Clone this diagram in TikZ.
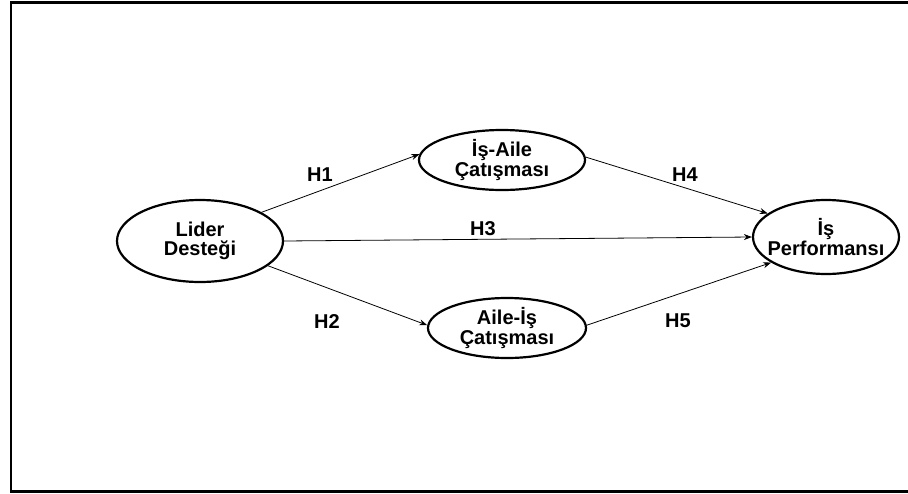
\documentclass[tikz,border=0pt]{standalone}
\usepackage{fontspec}
\setmainfont{Liberation Sans}
\usetikzlibrary{arrows.meta,shapes.geometric}

\begin{document}
\begin{tikzpicture}[x=1pt,y=-1pt,
    latent/.style={draw,ellipse,line width=2.2pt,inner xsep=-10pt,inner ysep=-5pt,align=center,
        font=\bfseries\fontsize{20}{19.3}\selectfont},
    path/.style={line width=0.8pt,-{Stealth[length=8pt,width=6pt]}},
    hyp/.style={font=\bfseries\fontsize{20}{20}\selectfont}]
    \useasboundingbox (0,0) rectangle (908,493);
    \clip (0,0) rectangle (908,493);
    \draw[line width=2.5pt](11,2.5) rectangle (916,491.5);
    \node[latent,minimum width=166pt,minimum height=82pt](lider)at(200,241){Lider\\Desteği};
    \node[latent,minimum width=166pt,minimum height=60pt](isaile)at(502,160){İş-Aile\\Çatışması};
    \node[latent,minimum width=158pt,minimum height=60pt](aileis)at(507,328){Aile-İş\\Çatışması};
    \node[latent,minimum width=146pt,minimum height=74pt](perf)at(826,237){İş\\Performansı};
    \draw[path](lider.25)--(isaile.176);
    \draw[path](lider.east)--(perf.west);
    \draw[path](lider.-20)--(aileis.178);
    \draw[path](isaile.2)--(perf.158);
    \draw[path](aileis.2)--(perf.-155);
    \node[hyp](h1)at(320,175){H1};
    \node[hyp](h3)at(483,229){H3};
    \node[hyp](h4)at(685,175){H4};
    \node[hyp](h2)at(327,322){H2};
    \node[hyp](h5)at(678,321){H5};
\end{tikzpicture}
\end{document}
